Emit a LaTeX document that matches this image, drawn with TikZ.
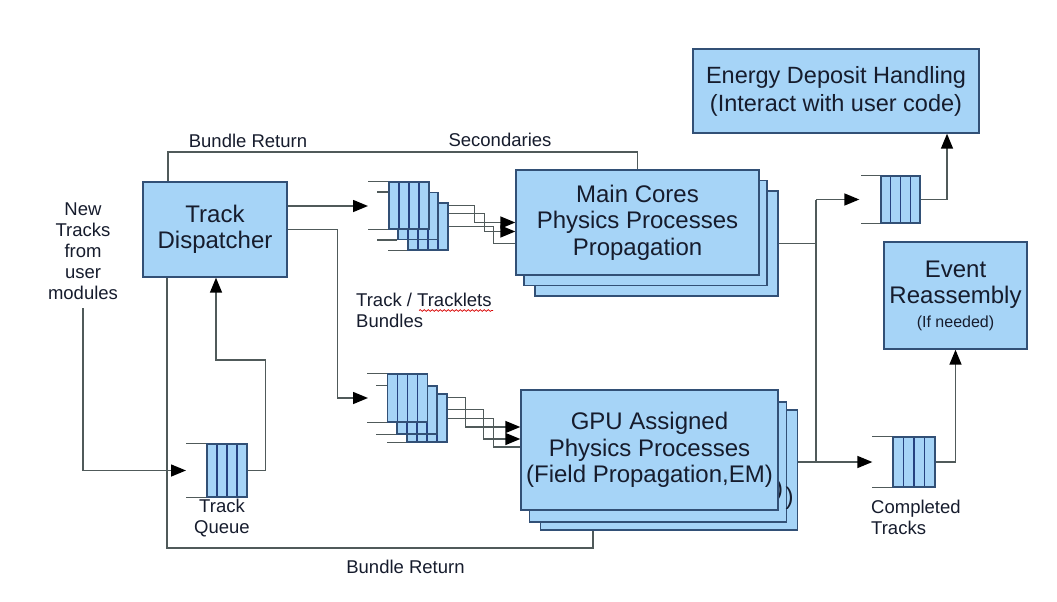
\documentclass[tikz,border=0pt]{standalone}
\usepackage{fontspec}
\setmainfont{Liberation Sans}
\usetikzlibrary{arrows.meta,calc,backgrounds,decorations.pathmorphing}
\definecolor{boxfill}{RGB}{166,212,247}
\definecolor{boxdraw}{RGB}{50,80,118}
\definecolor{cellcol}{RGB}{38,66,128}
\definecolor{linecol}{RGB}{80,90,90}
\definecolor{txtcol}{RGB}{22,28,45}
\begin{document}
\begin{tikzpicture}[x=1pt,y=-1pt,
  box/.style={draw=boxdraw,fill=boxfill,line width=1.4pt,inner sep=0pt,align=center,
    text=txtcol,font=\fontsize{24}{26.5}\selectfont},
  queue/.style={draw=boxdraw,fill=boxfill,line width=1.3pt,inner sep=0pt,
    minimum width=40pt,minimum height=47pt,
    path picture={\foreach \f in {0.25,0.5,0.75}{\draw[cellcol,line width=1.3pt]
      ($(path picture bounding box.north west)!\f!(path picture bounding box.north east)$) --
      ($(path picture bounding box.south west)!\f!(path picture bounding box.south east)$);}}},
  conn/.style={draw=linecol,line width=1.5pt},
  arr/.style={conn,-{Triangle[length=15pt,width=12pt,color=black]}},
  lbl/.style={text=txtcol,font=\fontsize{18.5}{21}\selectfont,inner sep=0pt,align=center},
  paren/.style={text=txtcol,font=\fontsize{24}{26.5}\selectfont,inner sep=0pt}
]
\useasboundingbox (0,0) rectangle (1057,602);

% main boxes
\node[box,minimum width=144pt,minimum height=95pt] (disp) at (215,229.5) {Track\\Dispatcher};
\node[box,minimum width=286pt,minimum height=84pt,font=\fontsize{23.5}{28}\selectfont] (energy) at (836,91) {Energy Deposit Handling\\(Interact with user code)};
\node[box,minimum width=143pt,minimum height=107pt] (event) at (955.5,295.5) {Event\\Reassembly\\[-3pt]{\fontsize{16}{18}\selectfont (If needed)}};

% queues
\node[queue,minimum height=53pt] (tq) at (227,470.5) {};
\node[queue,minimum width=39pt] (cq1) at (900.5,199.5) {};
\node[queue,minimum width=42pt,minimum height=50pt] (cq2) at (914,462) {};

% bundle stack A
\node[queue] (a3) at (428,226.5) {};
\node[queue] (a2) at (418,216) {};
\node[queue] (a1) at (409,205.5) {};
% bundle stack B
\node[queue,minimum height=48pt] (c3) at (427,418) {};
\node[queue,minimum height=48pt] (c2) at (417,410) {};
\node[queue,minimum height=48pt] (c1) at (407.5,398) {};

% main cores stack
\node[box,minimum width=243pt,minimum height=105pt] (main3) at (656.5,243.5) {};
\node[box,minimum width=243pt,minimum height=105pt] (main2) at (645.5,233) {};
\node[box,minimum width=243pt,minimum height=105pt] (main) at (637.5,222.5) {Main Cores\\Physics Processes\\Propagation};

% GPU stack (only the closing parentheses of the hidden copies show)
\node[box,minimum width=257pt,minimum height=120pt] (gpu3) at (669,470) {};
\node[box,minimum width=257pt,minimum height=120pt] (gpu2) at (658,462) {};
\node[paren] (p3) at (789.5,498) {)};
\node[paren] (p2) at (779,490) {)};
\node[box,minimum width=257pt,minimum height=120pt] (gpu) at (649.5,450) {GPU Assigned\\Physics Processes\\(Field Propagation,EM)};

% labels
\node[lbl] (newtr) at (83,251.5) {New\\Tracks\\from\\user\\modules};
\node[lbl] (brtop) at (248,141) {Bundle Return};
\node[lbl] (sec) at (500,140) {Secondaries};
\node[lbl] (brbot) at (405.5,567) {Bundle Return};
\node[lbl] (tqlbl) at (222,518) {Track\\Queue};
\node[lbl,anchor=west,align=left] (ctlbl) at (871,517) {Completed\\Tracks};
\node[lbl,anchor=west,align=left] (ttb) at (356,310.5) {Track / Tracklets\\Bundles};

\begin{pgfonlayer}{background}
\fill[white] (0,0) rectangle (1057,602);
% spell-check underline
\draw[red!85!black,line width=0.7pt,decorate,decoration={snake,amplitude=0.9pt,segment length=4pt}] (419,310.5) -- (493,310.5);

% new tracks -> track queue
\coordinate (tqin) at (186,470.5);
\draw[arr] ([yshift=-8pt]newtr.south) |- (tqin);
\draw[conn] (tq.north west) -- ++(-20,0);
\draw[conn] (tq.south west) -- ++(-20,0);
% track queue -> dispatcher
\coordinate (fd) at ($(disp.south)+(1,0)$);
\draw[arr] (tq.east) -- ++(18,0) -- ++(0,-110.5) -| (fd);

% top loop
\coordinate (tl) at (168,152);
\draw[conn] (tl |- disp.north) -- (tl) -| (main.north);
% bottom loop
\coordinate (bl) at (167,548);
\coordinate (br) at (593,548);
\draw[conn] (bl |- disp.south) -- (bl) -- (br) -- (br |- gpu3.south);

% dispatcher -> stacks
\coordinate (sa) at (368,206);
\coordinate (sb) at (368,398);
\draw[arr] (sa -| disp.east) -- (sa);
\draw[arr] (disp.east) -- ++(50,0) |- (sb);

% stack A open lines
\draw[conn] (a1.north west) -- ++(-20,0);
\draw[conn] (a1.south west) -- ++(-20,0);
\draw[conn] (a2.north west) -- ++(-20,0);
\draw[conn] (a2.south west) -- ++(-20,0);
\draw[conn] (a3.south west) -- ++(-19,0);
% stack A -> main
\draw[arr] ([yshift=-3pt]a3.north east) -- ++(26,0) |- (main.west);
\draw[arr] ([yshift=-11pt]a3.north east) -- ++(36,0) |- ($(main.west)+(0,9)$);
\draw[conn] ([yshift=-24pt]a3.north east) -- ++(45,0) |- ($(main.west)+(0,21)$);

% stack B open lines
\draw[conn] (c1.north west) -- ++(-20,0);
\draw[conn] (c1.south west) -- ++(-20,0);
\draw[conn] (c2.north west) -- ++(-20,0);
\draw[conn] (c2.south west) -- ++(-20,0);
\draw[conn] (c3.south west) -- ++(-19,0);
% stack B -> gpu
\draw[arr] ([yshift=-4pt]c3.north east) -- ++(18,0) |- ($(gpu.west)+(0,-23)$);
\draw[arr] ([yshift=-16pt]c3.north east) -- ++(36,0) |- ($(gpu.west)+(0,-11)$);
\draw[conn] ([yshift=-25pt]c3.north east) -- ++(46,0) |- ($(gpu.west)+(0,-3)$);

% outputs
\coordinate (jt) at (816,199.5);
\coordinate (jb) at (816,462);
\draw[conn] (main3.east) -- (main3.east -| jt);
\draw[conn] (jt) -- (jb);
\draw[arr] (jt) -- ($(cq1.west)+(-21,0)$);
\draw[arr] (jb -| gpu3.east) -- ($(cq2.west)+(-20,0)$);
\draw[conn] (cq1.north west) -- ++(-19,0);
\draw[conn] (cq1.south west) -- ++(-19,0);
\draw[conn] (cq2.north west) -- ++(-20,0);
\draw[conn] (cq2.south west) -- ++(-20,0);
\draw[arr] (cq1.east) -| ($(energy.south)+(111,0)$);
\draw[arr] (cq2.east) -| (event.south);
\end{pgfonlayer}
\end{tikzpicture}
\end{document}
